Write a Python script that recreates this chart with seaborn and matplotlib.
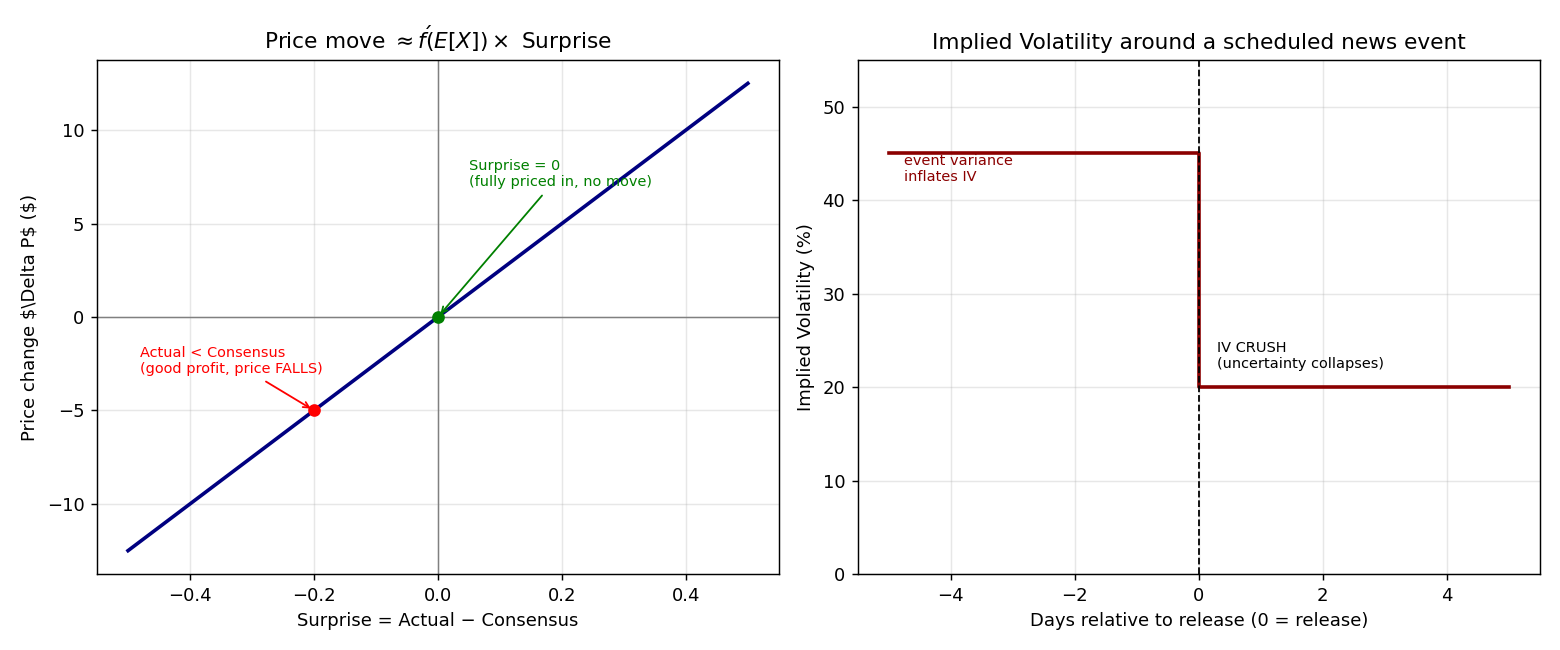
import numpy as np
import pandas as pd
import matplotlib
matplotlib.use("Agg")
import matplotlib.pyplot as plt
import seaborn as sns

# Left panel data
surprise = [-0.5, 0.5]
price_change = [-12.5, 12.5]
pt_zero_x, pt_zero_y = [0.0], [0.0]
pt_red_x, pt_red_y = [-0.2], [-5.0]

# Right panel data
days = [-5, 0, 5]
iv = [45, 20, 20]

fig, (ax1, ax2) = plt.subplots(1, 2, figsize=(12, 5), dpi=130)

# ---- Left
ax1.axhline(0, color="gray", lw=0.8)
ax1.axvline(0, color="gray", lw=0.8)
sns.lineplot(x=surprise, y=price_change, ax=ax1, color="navy", lw=2)
ax1.plot(pt_zero_x, pt_zero_y, "o", color="green", ms=6)
ax1.plot(pt_red_x, pt_red_y, "o", color="red", ms=6)
ax1.annotate("Surprise = 0\n(fully priced in, no move)", xy=(0, 0), xytext=(0.05, 7),
             color="green", fontsize=8,
             arrowprops=dict(arrowstyle="->", color="green"))
ax1.annotate("Actual < Consensus\n(good profit, price FALLS)", xy=(-0.2, -5), xytext=(-0.48, -3),
             color="red", fontsize=8,
             arrowprops=dict(arrowstyle="->", color="red"))
ax1.set_xlim(-0.55, 0.55)
ax1.set_ylim(-13.75, 13.75)
ax1.set_title(r"Price move $\approx f\'(E[X]) \times$ Surprise")
ax1.set_xlabel("Surprise = Actual \u2212 Consensus")
ax1.set_ylabel("Price change $\\Delta P$ ($)")
ax1.grid(alpha=0.3)

# ---- Right
sns.lineplot(x=days, y=iv, ax=ax2, color="darkred", lw=2, drawstyle="steps-post")
ax2.axvline(0, color="black", ls="--", lw=1)
ax2.text(-4.75, 42, "event variance\ninflates IV", color="darkred", fontsize=8)
ax2.text(0.3, 22, "IV CRUSH\n(uncertainty collapses)", color="black", fontsize=8)
ax2.set_xlim(-5.5, 5.5)
ax2.set_ylim(0, 55)
ax2.set_title("Implied Volatility around a scheduled news event")
ax2.set_xlabel("Days relative to release (0 = release)")
ax2.set_ylabel("Implied Volatility (%)")
ax2.grid(alpha=0.3)

fig.subplots_adjust(left=0.0622, right=0.987, top=0.9077, bottom=0.1169, wspace=0.116)
fig.savefig("out.png")
